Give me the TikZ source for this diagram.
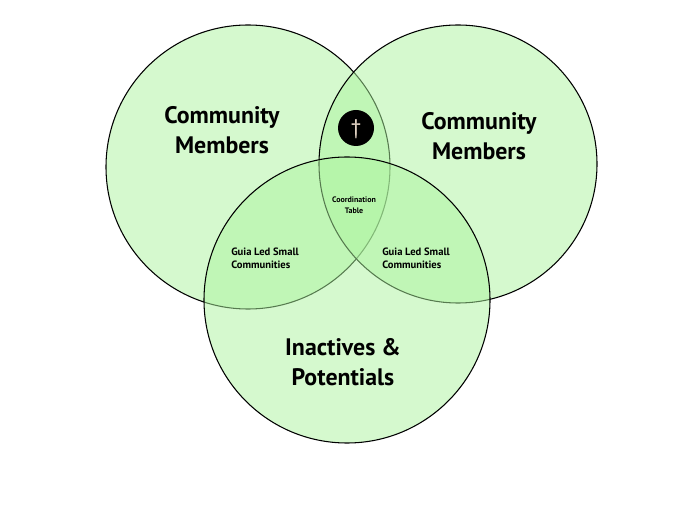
\documentclass[tikz,border=0pt]{standalone}
\usepackage{fontspec}
\setmainfont{PT Sans}
\usepackage{tikz}
\definecolor{vennGreen}{RGB}{173,245,159}
\begin{document}
\begin{tikzpicture}[x=0.0265cm, y=-0.0265cm,
	venn/.style={fill=vennGreen, fill opacity=0.5, draw=black, thick},
	biglabel/.style={font=\bfseries\fontsize{18}{23}\selectfont, align=center, text opacity=1},
	smalllabel/.style={font=\bfseries\fontsize{8}{10}\selectfont, align=left},
	tinylabel/.style={font=\bfseries\fontsize{6}{8}\selectfont, align=center}]
	\useasboundingbox (0,0) rectangle (690,532);
	\fill[white] (0,0) rectangle (690,532);
	% circles
	\draw[venn] (248,167) circle (142);
	\draw[venn] (458,164) circle (139);
	\draw[venn] (347,300) circle (143);
	% labels
	\node[biglabel] (leftMembers) at (222,130) {Community\\Members};
	\node[biglabel] (rightMembers) at (479,136) {Community\\Members};
	\node[biglabel] (inactives) at (343,362) {Inactives \&\\Potentials};
	\node[smalllabel] (leftGuia) at (265,258) {Guia Led Small\\Communities};
	\node[smalllabel] (rightGuia) at (416,258) {Guia Led Small\\Communities};
	\node[tinylabel] (coordination) at (354,205) {Coordination\\Table};
	% cross
	\fill[black] (356,128) circle (18);
	\node[font=\fontsize{16}{16}\selectfont, text=white!75!brown] (cross) at (356,129) {†};
\end{tikzpicture}
\end{document}
